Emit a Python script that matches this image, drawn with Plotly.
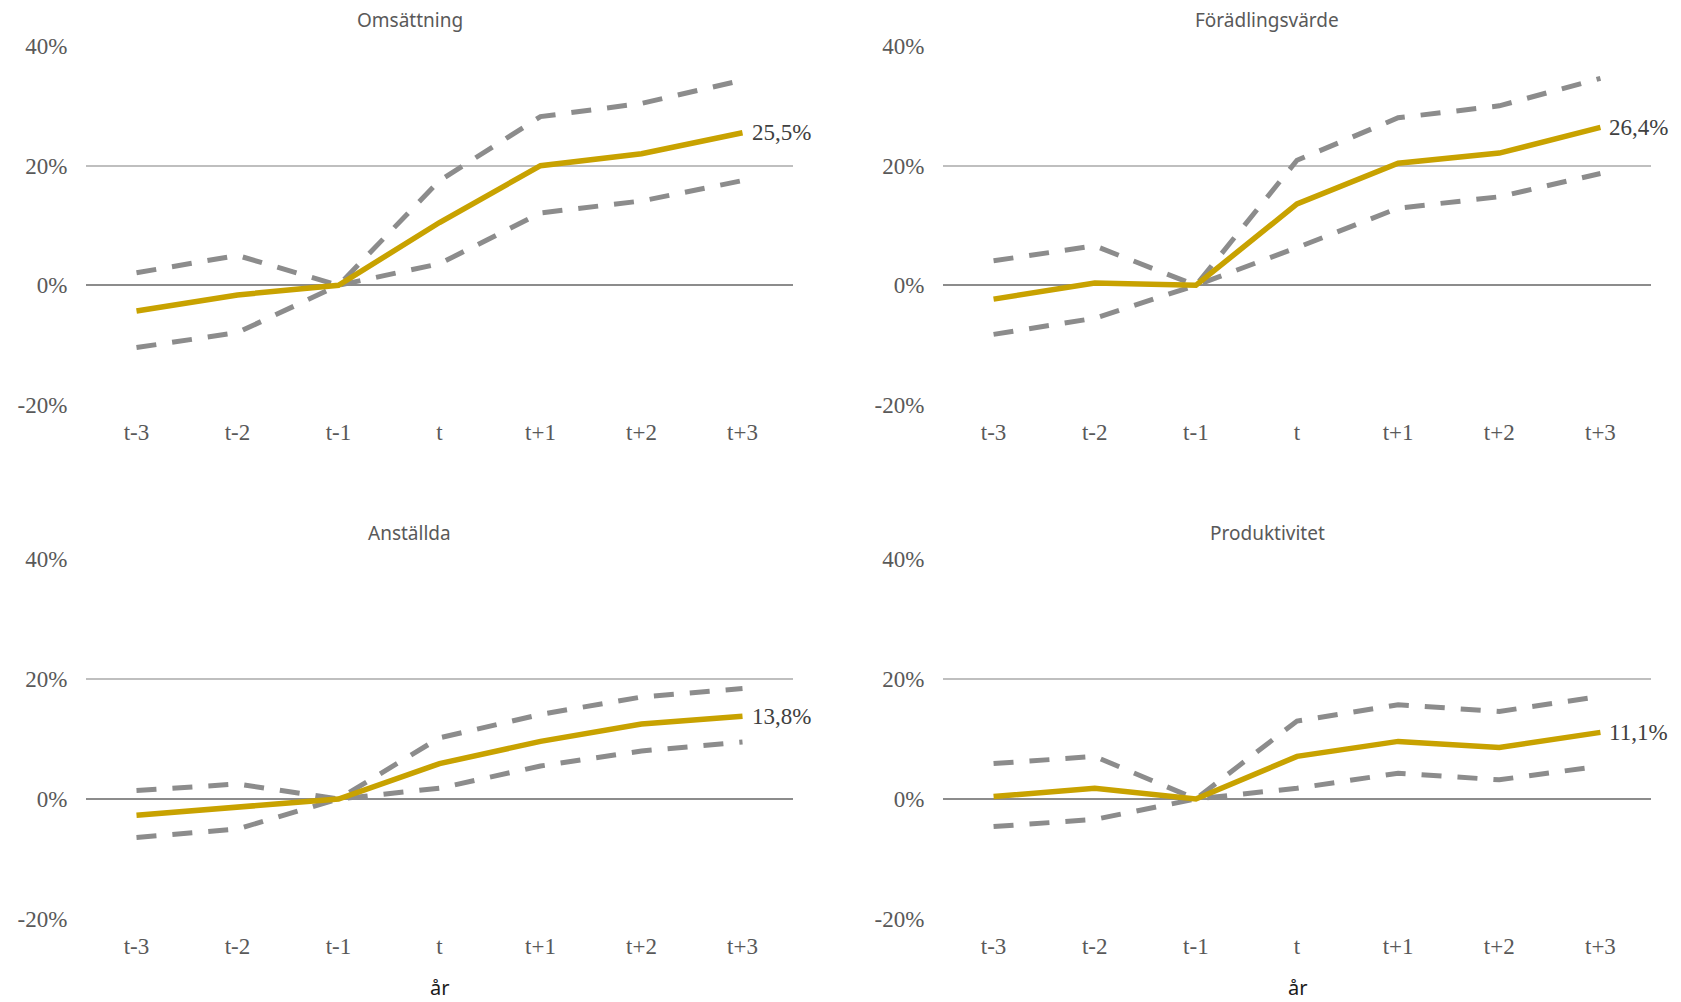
import plotly.graph_objects as go

# Period labels relative to event year t
periods = ["t-3", "t-2", "t-1", "t", "t+1", "t+2", "t+3"]

# Omsättning (%): mean and confidence band
oms_mean = [-4.3, -1.6, 0.0, 10.5, 20.0, 22.0, 25.5]
oms_upper = [2.1, 5.0, 0.0, 17.5, 28.2, 30.4, 34.3]
oms_lower = [-10.4, -7.9, 0.0, 3.6, 12.1, 14.1, 17.5]

# Förädlingsvärde (%)
fv_mean = [-2.3, 0.4, 0.0, 13.6, 20.4, 22.1, 26.4]
fv_upper = [4.1, 6.6, 0.0, 20.9, 28.0, 30.0, 34.6]
fv_lower = [-8.2, -5.5, 0.0, 6.3, 12.9, 14.8, 18.7]

# Anställda (%)
anst_mean = [-2.7, -1.3, 0.0, 5.9, 9.6, 12.5, 13.8]
anst_upper = [1.4, 2.5, 0.0, 10.2, 14.1, 17.0, 18.4]
anst_lower = [-6.4, -5.0, 0.0, 1.8, 5.5, 8.0, 9.5]

# Produktivitet (%)
prod_mean = [0.4, 1.8, 0.0, 7.1, 9.6, 8.6, 11.1]
prod_upper = [5.9, 7.1, 0.0, 13.0, 15.7, 14.6, 17.1]
prod_lower = [-4.6, -3.4, 0.0, 1.8, 4.3, 3.2, 5.5]

panel_titles = ["Omsättning", "Förädlingsvärde", "Anställda", "Produktivitet"]
end_labels = ["25,5%", "26,4%", "13,8%", "11,1%"]
y_ticks = [-20, 0, 20, 40]
y_ticklabels = ["-20%", "0%", "20%", "40%"]
x_axis_title = "år"

panels = [
    (oms_mean, oms_upper, oms_lower),
    (fv_mean, fv_upper, fv_lower),
    (anst_mean, anst_upper, anst_lower),
    (prod_mean, prod_upper, prod_lower),
]

W, H = 1681, 1002
GOLD = "#C8A200"
GREY = "#8C8C8C"
SERIF = "Liberation Serif"
SANS = "Noto Sans"

# pixel geometry of the plot areas (left, right, top, bottom)
x_doms = [(86, 793), (943, 1651)]
y_doms = [(46, 405), (559, 919)]

fig = go.Figure()
layout = {}
annotations = []

for i, (mean, upper, lower) in enumerate(panels):
    col, row = i % 2, i // 2
    n = "" if i == 0 else str(i + 1)
    xa, ya = "x" + n, "y" + n
    for series in (upper, lower):
        fig.add_trace(go.Scatter(
            x=periods, y=series, xaxis=xa, yaxis=ya, mode="lines",
            line=dict(color=GREY, width=5, dash="20px,16px"),
            hoverinfo="skip", showlegend=False))
    fig.add_trace(go.Scatter(
        x=periods, y=mean, xaxis=xa, yaxis=ya, mode="lines",
        line=dict(color=GOLD, width=5.5),
        showlegend=False))

    x0, x1 = x_doms[col]
    top, bot = y_doms[row]
    layout["xaxis" + n] = dict(
        domain=[x0 / W, x1 / W], anchor=ya, type="category",
        range=[-0.5, len(periods) - 0.5], showgrid=False, showline=False,
        zeroline=False, ticks="outside", ticklen=6, tickcolor="rgba(0,0,0,0)",
        automargin=False,
        tickfont=dict(family=SERIF, size=23, color="#595959"), fixedrange=True,
    )
    layout["yaxis" + n] = dict(
        domain=[1 - bot / H, 1 - top / H], anchor=xa, range=[-20, 40],
        tickvals=y_ticks, ticktext=y_ticklabels, showgrid=True,
        gridcolor="#BFBFBF", gridwidth=2, zeroline=True, zerolinecolor="#8C8C8C",
        zerolinewidth=2, showline=False, ticks="outside", ticklen=13,
        tickcolor="rgba(0,0,0,0)", automargin=False,
        tickfont=dict(family=SERIF, size=23, color="#595959"), fixedrange=True,
    )

    # panel title
    annotations.append(dict(
        text=panel_titles[i], xref="paper", yref="paper",
        x=((x0 + x1) / 2 - 30) / W, y=1 - (top - 26) / H,
        xanchor="center", yanchor="middle", showarrow=False,
        font=dict(family=SANS, size=19, color="#595959")))
    # end value label next to last point
    annotations.append(dict(
        text=end_labels[i], xref=xa, yref=ya, x=periods[-1], y=mean[-1],
        xanchor="left", yanchor="middle", xshift=7, showarrow=False,
        font=dict(family=SERIF, size=23, color="#404040")))
    # x-axis title under the bottom row
    if row == 1:
        annotations.append(dict(
            text=x_axis_title, xref="paper", yref="paper",
            x=((x0 + x1) / 2) / W, y=1 - 987 / H,
            xanchor="center", yanchor="middle", showarrow=False,
            font=dict(family=SANS, size=20, color="#1a1a1a")))

fig.update_layout(
    width=W, height=H, margin=dict(l=0, r=0, t=0, b=0, pad=0),
    paper_bgcolor="white", plot_bgcolor="white",
    showlegend=False, annotations=annotations, **layout)

fig.write_html("out.html")
